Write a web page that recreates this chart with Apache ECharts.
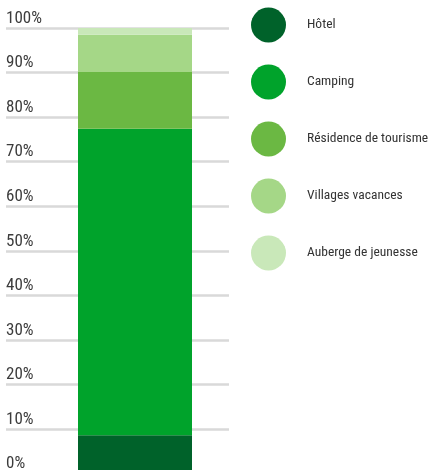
<!DOCTYPE html>
<html><head><meta charset="utf-8">
<script src="https://cdn.jsdelivr.net/npm/echarts@6/dist/echarts.min.js"></script>
<style>html,body{margin:0;padding:0;background:#fff}#c{width:430px;height:470px}</style>
</head><body><div id="c"></div>
<script>
const categories = [''];
const seriesNames = ['Hôtel', 'Camping', 'Résidence de tourisme', 'Villages vacances', 'Auberge de jeunesse'];
const hotel = [8.6];
const camping = [68.8];
const residence = [12.7];
const villages = [8.4];
const auberge = [1.5];
const colors = ['#00622a', '#00a32b', '#6bb843', '#a5d787', '#c9e8b9'];
const values = [hotel, camping, residence, villages, auberge];
const font = "'Roboto Condensed', 'Liberation Sans Narrow', sans-serif";

const chart = echarts.init(document.getElementById('c'));
chart.setOption({
  animation: false,
  textStyle: { fontFamily: font },
  grid: [
    { left: 6, width: 223, top: 28, height: 445.5, outerBoundsMode: 'none', containLabel: false },
    { left: 78, width: 114, top: 28, height: 445.5, outerBoundsMode: 'none', containLabel: false }
  ],
  xAxis: [
    { type: 'category', gridIndex: 0, data: categories, show: false },
    { type: 'category', gridIndex: 1, data: categories, show: false }
  ],
  yAxis: [
    { type: 'value', gridIndex: 0, min: 0, max: 100, interval: 10,
      axisLine: { show: false }, axisTick: { show: false },
      splitLine: { lineStyle: { color: '#d9d9d9', width: 2.5 } },
      axisLabel: { inside: true, margin: 0, verticalAlign: 'bottom', padding: [0, 0, 1, 0],
        formatter: '{value}%', color: '#3c3c3c', fontSize: 17, fontFamily: font } },
    { type: 'value', gridIndex: 1, min: 0, max: 100, show: false }
  ],
  legend: {
    orient: 'vertical', left: 251, top: 7.5, padding: 0, icon: 'circle',
    itemWidth: 35, itemHeight: 35, itemGap: 22,
    data: seriesNames,
    textStyle: { fontSize: 13.5, color: '#333', fontFamily: font, padding: [0, 0, 0, 16] }
  },
  series: seriesNames.map((n, i) => ({
    name: n, type: 'bar', stack: 'total', xAxisIndex: 1, yAxisIndex: 1,
    barWidth: '100%', data: values[i], itemStyle: { color: colors[i] }
  }))
});
</script></body></html>
